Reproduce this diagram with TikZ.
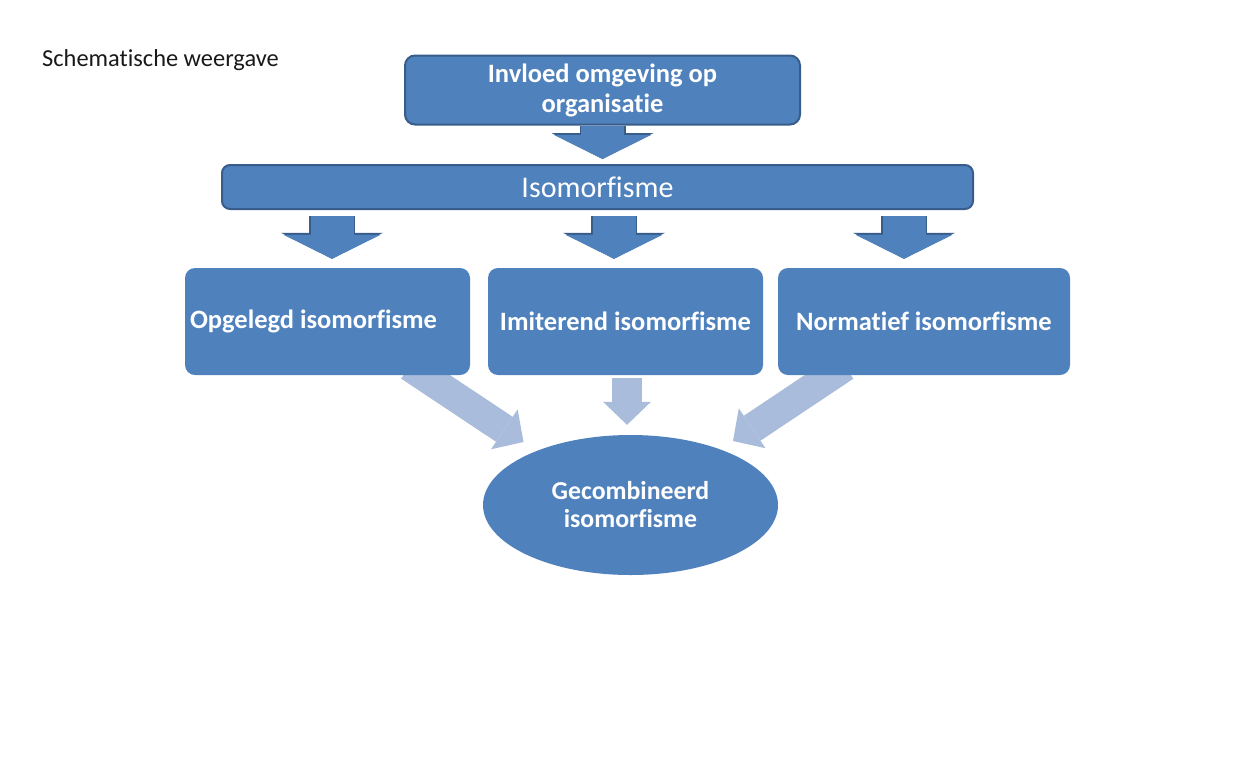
\documentclass[tikz,border=0pt]{standalone}
\usepackage{fontspec}
\setmainfont{Carlito}[Ligatures=NoCommon]
\usepackage{tikz}
\usetikzlibrary{arrows.meta,calc,shapes.geometric,backgrounds}
\usepackage{xcolor}
\definecolor{boxblue}{HTML}{4F81BD}
\definecolor{boxline}{HTML}{385D8A}
\definecolor{paleblue}{HTML}{A9BCDB}

\begin{document}
\begin{tikzpicture}[x=1pt,y=-1pt]
\tikzset{
    b1/.style={%
        draw=boxline, line width=2pt,
        fill=boxblue,
        rectangle,
        rounded corners=10pt,
        text=white,
        align=center,
        inner sep=0pt
        },
    b2/.style={%
        fill=boxblue,
        rectangle,
        rounded corners=10pt,
        minimum height=107pt,
        text=white,
        font=\fontsize{26.5}{30}\selectfont\bfseries,
        inner sep=0pt
        },
    bigarr/.style={%
        draw=boxblue, line width=43pt,
        -{Triangle[length=24pt,width=97pt,line width=0pt]},
        preaction={draw=boxline, line width=46pt,
            -{Triangle[length=26pt,width=102pt,line width=0pt]}}
        },
    palearr/.style={%
        draw=paleblue, line width=30pt,
        -{Triangle[length=23pt,width=48pt,line width=0pt]}
        },
}
\useasboundingbox (0,0) rectangle (1234,769);
%%%TITLE
\node[anchor=west, inner sep=0pt, text=black!90, font=\fontsize{24.4}{28}\selectfont] (titel) at (42,60) {Schematische weergave};
%%%BOXES
\node[b1, minimum width=395pt, minimum height=69pt, font=\fontsize{26.5}{30}\selectfont\bfseries] (invloed) at (602.5,90) {Invloed omgeving op\\organisatie};
\node[b1, minimum width=751pt, minimum height=44pt, rounded corners=8pt, font=\fontsize{30}{34}\selectfont] (iso) at (597.5,187) {Isomorfisme};
\node[b2, minimum width=285pt] (opg) at (327.5,321.5) {Opgelegd isomorfisme\hspace*{28pt}};
\node[b2, minimum width=275pt] (imi) at (625.5,321.5) {Imiterend isomorfisme};
\node[b2, minimum width=292pt] (norm) at (924,321.5) {Normatief isomorfisme};
\node[ellipse, fill=boxblue, minimum width=295pt, minimum height=140pt, inner sep=0pt, text=white, align=center, font=\fontsize{25.8}{28}\selectfont\bfseries] (gecomb) at (630.5,505) {Gecombineerd\\isomorfisme};
%%%ARROWS
\begin{scope}[on background layer]
\fill[white] (0,0) rectangle (1234,769);
\draw[bigarr, shorten >=5pt] (invloed.south) -- (iso.north -| invloed.south);
\draw[bigarr, shorten <=6pt, shorten >=9pt] (iso.south -| 332,0) -- (opg.north -| 332,0);
\draw[bigarr, shorten <=6pt, shorten >=9pt] (iso.south -| 614,0) -- (imi.north -| 614,0);
\draw[bigarr, shorten <=6pt, shorten >=9pt] (iso.south -| 904,0) -- (norm.north -| 904,0);
\draw[palearr] ($(opg.south)+(82,-9)$) -- ($(gecomb.center)+(-107,-63)$);
\draw[palearr, shorten <=3pt, shorten >=10pt] (imi.south -| 627,0) -- (gecomb.north -| 627,0);
\draw[palearr] ($(norm.south)+(-79,-9)$) -- ($(gecomb.center)+(102.5,-64)$);
\end{scope}
\end{tikzpicture}
\end{document}
